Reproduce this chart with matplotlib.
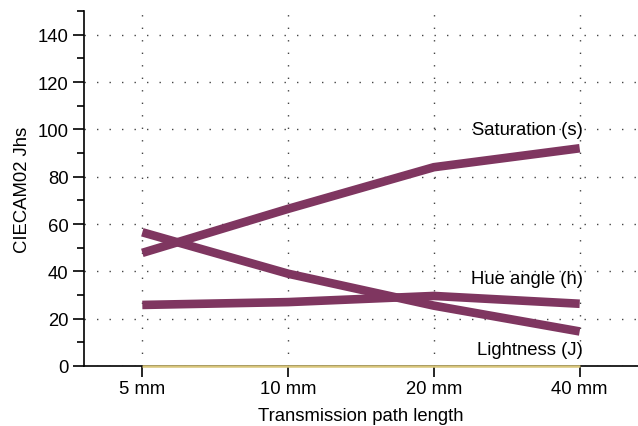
import matplotlib
matplotlib.use("Agg")
import matplotlib.pyplot as plt
from matplotlib.ticker import MultipleLocator

plt.rcParams['font.family'] = ['Liberation Sans', 'DejaVu Sans']

categories = ["5 mm", "10 mm", "20 mm", "40 mm"]
saturation = [47.8, 66.4, 84.0, 92.0]
lightness = [56.5, 39.0, 25.5, 14.6]
hue_angle = [25.8, 27.0, 29.6, 26.3]
baseline = [0, 0, 0, 0]
labels = ["Saturation (s)", "Hue angle (h)", "Lightness (J)"]
label_y = [100, 37, 7]

line_color = "#7f3660"
base_color = "#d8c57a"
fs = 13.3

fig = plt.figure(figsize=(6.38, 4.27), dpi=100)
ax = fig.add_axes([84/638, 60/427, 554/638, 355/427])
x = list(range(len(categories)))

for series in [saturation, lightness, hue_angle]:
    ax.plot(x, series, color=line_color, lw=6.2, solid_capstyle='butt', zorder=3)
ax.plot(x, baseline, color=base_color, lw=1.8, solid_capstyle='butt', zorder=4, clip_on=False)

for txt, yv in zip(labels, label_y):
    ax.text(x[-1] + 0.02, yv, txt, ha='right', va='center', fontsize=fs, zorder=5)

ax.set_xlim(-0.4, 3.4)
ax.set_ylim(0, 150)
ax.set_xticks(x)
ax.set_xticklabels(categories, fontsize=fs)
ax.yaxis.set_major_locator(MultipleLocator(20))
ax.yaxis.set_minor_locator(MultipleLocator(10))
ax.set_yticks([0, 20, 40, 60, 80, 100, 120, 140])
ax.tick_params(axis='y', labelsize=fs, length=8, width=1.2, direction='out', pad=3)
ax.tick_params(axis='y', which='minor', length=5, width=1.2)
ax.tick_params(axis='x', length=8, width=1.2, direction='out', pad=2)

ax.grid(True, which='major', axis='both', color='#444444', linestyle=(0, (1, 8)), lw=1.0, zorder=0)

for s in ['top', 'right']:
    ax.spines[s].set_visible(False)
for s in ['left', 'bottom']:
    ax.spines[s].set_linewidth(1.2)

ax.set_ylabel("CIECAM02 Jhs", fontsize=fs, labelpad=5)
ax.set_xlabel("Transmission path length", fontsize=fs, labelpad=7)

fig.savefig("out.png", dpi=100)
